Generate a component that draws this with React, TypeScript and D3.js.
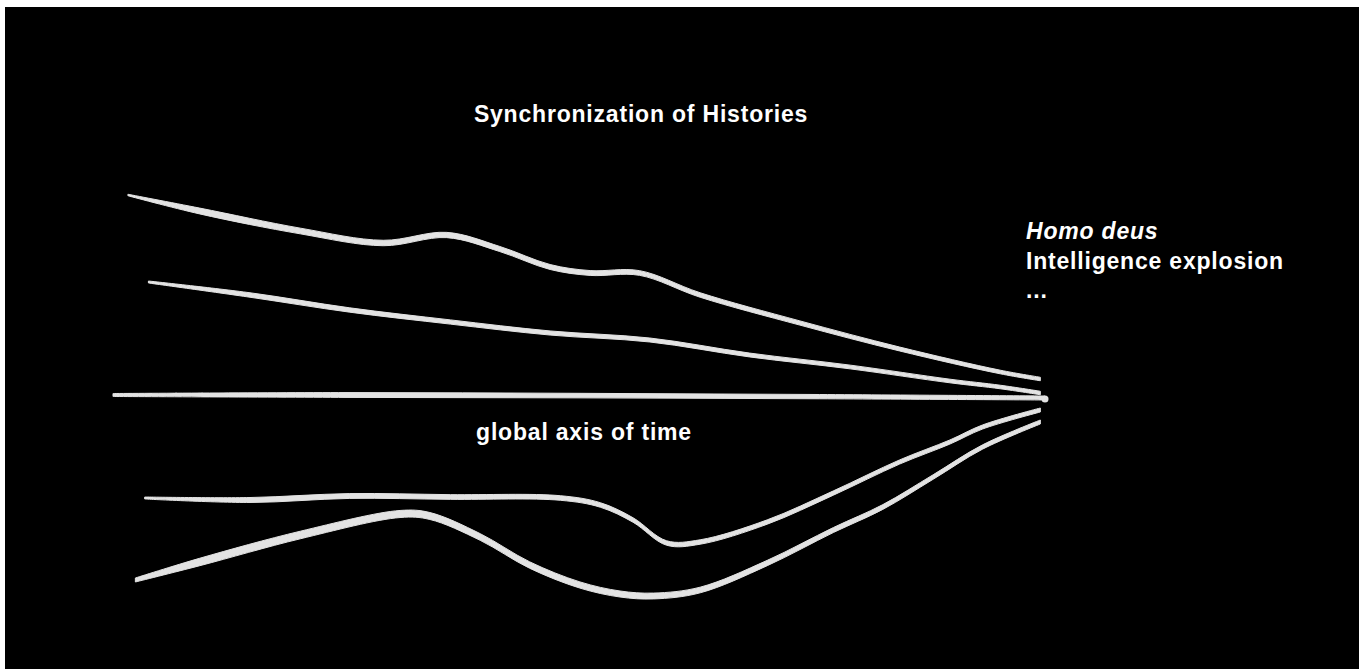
import React, { useEffect, useRef } from "react";
import * as d3 from "d3";

// time runs 0..100 left to right, offset is distance from the global axis
const axisTime = [0, 25, 50, 75, 100];
const axisOffset = [0, 0, -0.3, -0.8, -1.5];

const history1Time = [1.6, 9.3, 20.1, 29.0, 35.8, 41.5, 46.9, 51.2, 56.5, 63.0, 73.7, 84.4, 95.2, 99.5];
const history1Offset = [100, 92, 82, 76, 80, 73, 64, 61, 61, 50, 36, 23, 11.5, 8];

const history2Time = [3.8, 14.7, 25.4, 36.2, 46.9, 57.6, 68.3, 79.1, 89.8, 95.2, 99.5];
const history2Offset = [56.5, 50, 42.5, 36.5, 31, 27.5, 20, 14, 7, 4, 1];

const history3Time = [3.4, 14.7, 25.4, 36.2, 48.0, 52.3, 55.8, 59.4, 63.0, 70.2, 77.3, 84.4, 89.8, 93.3, 99.5];
const history3Offset = [-51.5, -52.5, -50.5, -51, -51.5, -55, -62.5, -74, -73.5, -63.5, -49, -33.5, -23.5, -16, -7.5];

const history4Time = [2.4, 9.3, 20.1, 30.8, 34.0, 39.4, 44.7, 50.1, 54.4, 58.0, 63.0, 70.2, 77.3, 82.6, 88.0, 93.3, 99.5];
const history4Offset = [-92.5, -83.5, -70, -59.5, -60.5, -71, -85, -95, -99.5, -100.5, -97.5, -84, -67.5, -56, -41, -26, -13.5];

const title = "Synchronization of Histories";
const axisLabel = "global axis of time";
const futureLines = ["Homo deus", "Intelligence explosion", "..."];

const W = 1368;
const H = 669;

export default function App() {
  const ref = useRef<SVGSVGElement>(null);

  useEffect(() => {
    const svg = d3.select(ref.current);
    svg.selectAll("*").remove();

    svg.append("rect").attr("width", W).attr("height", H).attr("fill", "#fff");
    svg.append("rect").attr("x", 5).attr("y", 7).attr("width", 1354).attr("height", H - 7).attr("fill", "#000");

    const x = d3.scaleLinear().domain([0, 100]).range([113, 1045]);
    const y = d3.scaleLinear().domain([-100, 100]).range([595, 195]);

    const series = [
      { t: history1Time, v: history1Offset, w: [1.5, 6, 3.5] },
      { t: history2Time, v: history2Offset, w: [2, 4.5, 3.5] },
      { t: axisTime, v: axisOffset, w: [3, 5, 4] },
      { t: history3Time, v: history3Offset, w: [2, 5, 4] },
      { t: history4Time, v: history4Offset, w: [4, 8, 4] },
    ];

    series.forEach((s) => {
      const pts = s.t.map((t, i) => ({ t, v: s.v[i] }));
      const t0 = s.t[0];
      const t1 = s.t[s.t.length - 1];
      const width = d3.scaleLinear().domain([t0, t0 + 8, t1]).range(s.w).clamp(true);
      const area = d3
        .area<{ t: number; v: number }>()
        .x((d) => x(d.t))
        .y0((d) => y(d.v) - width(d.t) / 2)
        .y1((d) => y(d.v) + width(d.t) / 2)
        .curve(d3.curveCatmullRom);
      svg.append("path").datum(pts).attr("d", area).attr("fill", "#e3e3e3").attr("stroke", "#e3e3e3").attr("stroke-width", 1);
    });

    // small knot where the histories meet
    svg.append("circle").attr("cx", x(100)).attr("cy", y(-2)).attr("r", 3.5).attr("fill", "#e3e3e3");

    const font = "'Liberation Sans', Arial, Helvetica, sans-serif";

    svg.append("text")
      .attr("x", 641).attr("y", 122)
      .attr("text-anchor", "middle")
      .attr("fill", "#fff").attr("font-family", font).attr("font-weight", "bold").attr("font-size", 23)
      .attr("letter-spacing", 0.8)
      .text(title);

    svg.append("text")
      .attr("x", 584).attr("y", 440)
      .attr("text-anchor", "middle")
      .attr("fill", "#fff").attr("font-family", font).attr("font-weight", "bold").attr("font-size", 23)
      .attr("letter-spacing", 0.8)
      .text(axisLabel);

    svg.selectAll("text.future")
      .data(futureLines)
      .join("text")
      .attr("class", "future")
      .attr("x", 1026)
      .attr("y", (_, i) => 239 + i * 29.5)
      .attr("fill", "#fff").attr("font-family", font).attr("font-weight", "bold").attr("font-size", 23)
      .attr("letter-spacing", 0.8)
      .attr("font-style", (_, i) => (i === 0 ? "italic" : "normal"))
      .text((d) => d);
  }, []);

  return (
    <svg ref={ref} width={W} height={H} style={{ position: "absolute", left: 0, top: 0, display: "block" }} />
  );
}
